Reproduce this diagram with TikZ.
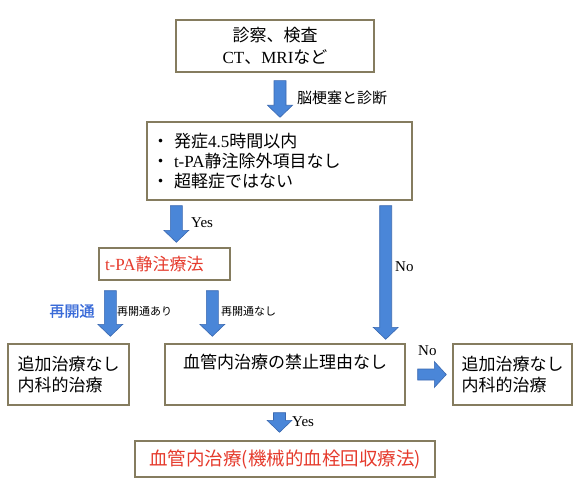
\documentclass[tikz,border=0pt]{standalone}
\usepackage{fontspec}
\setmainfont{Liberation Serif}
\newfontfamily\jp[AutoFakeBold=1.5]{Noto Sans CJK JP}
\usetikzlibrary{calc}
\definecolor{boxline}{HTML}{857C5F}
\definecolor{arrfill}{HTML}{4A86D8}
\definecolor{arrline}{HTML}{3A68B0}
\definecolor{tred}{HTML}{E53A2C}
\definecolor{tblue}{HTML}{3A6BD8}

% fat arrows: start point, then tip taken from the second point
\newcommand\fatdown[2]{%
 \filldraw[fat] let \p1=(#1),\p2=(#2) in
 (\x1-6pt,\y1) -- (\x1+6pt,\y1) -- (\x1+6pt,\y2+12pt) -- (\x1+12.5pt,\y2+12pt)
 -- (\x1,\y2) -- (\x1-12.5pt,\y2+12pt) -- (\x1-6pt,\y2+12pt) -- cycle;}
\newcommand\fatright[2]{%
 \filldraw[fat] let \p1=(#1),\p2=(#2) in
 (\x1,\y1+5.5pt) -- (\x1,\y1-5.5pt) -- (\x2-12pt,\y1-5.5pt) -- (\x2-12pt,\y1-13pt)
 -- (\x2,\y1) -- (\x2-12pt,\y1+13pt) -- (\x2-12pt,\y1+5.5pt) -- cycle;}

\begin{document}
\begin{tikzpicture}[x=1pt,y=-1pt,
 box/.style={draw=boxline,line width=1.4pt,inner sep=0pt,font=\jp\fontsize{17}{21}\selectfont},
 fat/.style={fill=arrfill,draw=arrline,line width=0.6pt},
 lbl/.style={font=\fontsize{15}{18}\selectfont,anchor=west,inner sep=0pt},
 jl/.style={font=\jp\fontsize{15}{18}\selectfont,anchor=west,inner sep=0pt}]
\useasboundingbox (0,0) rectangle (585,489);
\node[box,minimum width=198pt,minimum height=52pt,align=center,
 font=\jp\fontsize{17}{22}\selectfont] (exam) at (275,46)
 {診察、検査\\{\rmfamily CT}、{\rmfamily MRI}など};
\node[box,minimum width=265pt,minimum height=78pt,text width=255pt,align=left,
 font=\jp\fontsize{17}{20}\selectfont] (cond) at (279.5,161)
 {・\hspace{5pt}発症{\rmfamily 4.5}時間以内\\
  ・\hspace{5pt}{\rmfamily t-PA}静注除外項目なし\\
  ・\hspace{5pt}超軽症ではない};
\node[box,minimum width=131pt,minimum height=32pt,text width=119pt,align=left,
 text=tred] (tpa) at (164.5,264) {{\rmfamily t-PA}静注療法};
\node[box,minimum width=121pt,minimum height=61pt,align=left] (med1) at (68.5,374.5)
 {追加治療なし\\内科的治療};
\node[box,minimum width=240pt,minimum height=61pt,align=center] (evt) at (285,374.5)
 {血管内治療の禁止理由なし\\\strut};
\node[box,minimum width=119pt,minimum height=61pt,align=left] (med2) at (512.5,374.5)
 {追加治療なし\\内科的治療};
\node[box,minimum width=300pt,minimum height=36pt,text=tred,
 font=\jp\fontsize{18.5}{22}\selectfont] (mech) at (285,459)
 {血管内治療(機械的血栓回収療法)};
% arrows
\fatdown{$(exam.south)+(5,8)$}{$(cond.north)+(0,-4)$}
\fatdown{$(cond.south west)+(30,5)$}{$(tpa.north)+(0,-5)$}
\fatdown{$(tpa.south west)+(12,10)$}{$(med1.north)+(0,-7)$}
\fatdown{$(tpa.south west)+(114,10)$}{$(evt.north)+(0,-7)$}
\fatdown{$(cond.south east)+(-27,5)$}{$(evt.north)+(0,-4)$}
\fatright{$(evt.east)+(12,0)$}{$(med2.west)+(-6,0)$}
\fatdown{$(evt.south)+(-5.5,7)$}{$(mech.north)+(0,-8)$}
% labels
\node[jl] (dx) at (297,98) {脳梗塞と診断};
\node[lbl] (yes1) at (191,223) {Yes};
\node[lbl] (no1) at (395,267) {No};
\node[lbl] (no2) at (418,351) {No};
\node[lbl] (yes2) at (292,422) {Yes};
\node[jl,anchor=center,text=tblue,font=\jp\bfseries\fontsize{15}{18}\selectfont]
 (recan) at (72,311) {再開通};
\node[jl,font=\jp\fontsize{11}{13}\selectfont] (recyes) at (117,311) {再開通あり};
\node[jl,font=\jp\fontsize{11}{13}\selectfont] (recno) at (221,311) {再開通なし};
\end{tikzpicture}
\end{document}
